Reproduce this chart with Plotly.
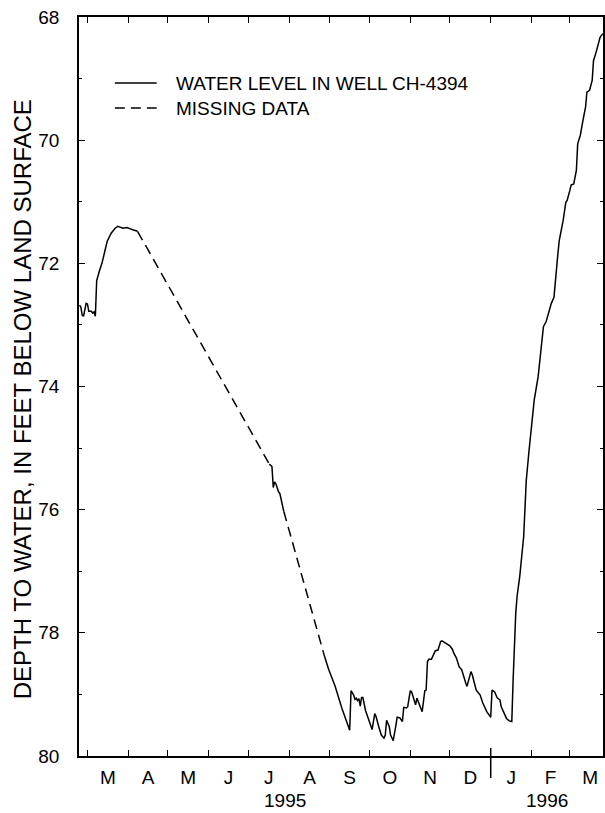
import plotly.graph_objects as go
import pandas as pd

# ---------------- data ----------------
# Measured water level, well CH-4394 (depth below land surface, ft)
seg1_dates = ["1995-02-23", "1995-02-24", "1995-02-25", "1995-02-26", "1995-02-28",
              "1995-03-01", "1995-03-02", "1995-03-04", "1995-03-05", "1995-03-06",
              "1995-03-07", "1995-03-08", "1995-03-10", "1995-03-12", "1995-03-14",
              "1995-03-16", "1995-03-19", "1995-03-22", "1995-03-24", "1995-03-26",
              "1995-03-28", "1995-03-31", "1995-04-03", "1995-04-05", "1995-04-08"]
seg1_depth = [72.68, 72.71, 72.84, 72.86, 72.65,
              72.66, 72.78, 72.78, 72.81, 72.79,
              72.86, 72.28, 72.13, 72.00, 71.82,
              71.64, 71.51, 71.43, 71.40, 71.42,
              71.43, 71.42, 71.45, 71.46, 71.48]

seg2_dates = ["1995-07-17", "1995-07-18", "1995-07-19", "1995-07-20", "1995-07-21",
              "1995-07-22", "1995-07-23", "1995-07-24", "1995-07-25", "1995-07-27",
              "1995-07-28"]
seg2_depth = [75.26, 75.28, 75.30, 75.64, 75.55,
              75.58, 75.67, 75.71, 75.74, 75.95,
              76.03]

seg3_dates = ["1995-08-28", "1995-08-31", "1995-09-05", "1995-09-10", "1995-09-16",
              "1995-09-17", "1995-09-19", "1995-09-20", "1995-09-21", "1995-09-22",
              "1995-09-23", "1995-09-24", "1995-09-25", "1995-09-26", "1995-09-28",
              "1995-09-30", "1995-10-01", "1995-10-03", "1995-10-05", "1995-10-06",
              "1995-10-08", "1995-10-10", "1995-10-12", "1995-10-13", "1995-10-14",
              "1995-10-16", "1995-10-17", "1995-10-19", "1995-10-21", "1995-10-22",
              "1995-10-24", "1995-10-26", "1995-10-27", "1995-10-29", "1995-10-30",
              "1995-11-01", "1995-11-02", "1995-11-04", "1995-11-05", "1995-11-06",
              "1995-11-08", "1995-11-09", "1995-11-10", "1995-11-12", "1995-11-13",
              "1995-11-14", "1995-11-15", "1995-11-17", "1995-11-19", "1995-11-20",
              "1995-11-22", "1995-11-23", "1995-11-24", "1995-11-25", "1995-11-27",
              "1995-11-29", "1995-12-01", "1995-12-03", "1995-12-04", "1995-12-06",
              "1995-12-08", "1995-12-10", "1995-12-11", "1995-12-13", "1995-12-14",
              "1995-12-16", "1995-12-17", "1995-12-18", "1995-12-20", "1995-12-21",
              "1995-12-24", "1995-12-26", "1995-12-29", "1996-01-01", "1996-01-02",
              "1996-01-04", "1996-01-06", "1996-01-08", "1996-01-09", "1996-01-11",
              "1996-01-13", "1996-01-15", "1996-01-17", "1996-01-18", "1996-01-19",
              "1996-01-20", "1996-01-21", "1996-01-23", "1996-01-26", "1996-01-27",
              "1996-01-28", "1996-01-30", "1996-02-01", "1996-02-03", "1996-02-06",
              "1996-02-08", "1996-02-10", "1996-02-12", "1996-02-14", "1996-02-16",
              "1996-02-18", "1996-02-19", "1996-02-21", "1996-02-22", "1996-02-24",
              "1996-02-25", "1996-02-27", "1996-02-28", "1996-03-01", "1996-03-02",
              "1996-03-04", "1996-03-06", "1996-03-07", "1996-03-08", "1996-03-09",
              "1996-03-11", "1996-03-13", "1996-03-14", "1996-03-16", "1996-03-18",
              "1996-03-19", "1996-03-21", "1996-03-22", "1996-03-24", "1996-03-26"]
seg3_depth = [78.39, 78.59, 78.87, 79.22, 79.58,
              78.94, 79.01, 79.08, 79.06, 79.10,
              79.07, 79.19, 79.05, 79.05, 79.26,
              79.39, 79.47, 79.57, 79.31, 79.36,
              79.52, 79.66, 79.71, 79.66, 79.42,
              79.52, 79.66, 79.75, 79.51, 79.37,
              79.38, 79.44, 79.21, 79.22, 79.20,
              78.94, 78.96, 79.13, 79.17, 79.06,
              79.16, 79.21, 79.28, 78.94, 78.93,
              78.47, 78.43, 78.43, 78.33, 78.29,
              78.28, 78.21, 78.14, 78.13, 78.16,
              78.19, 78.21, 78.27, 78.33, 78.41,
              78.55, 78.60, 78.68, 78.81, 78.87,
              78.71, 78.63, 78.68, 78.82, 78.93,
              79.01, 79.14, 79.28, 79.37, 78.93,
              78.96, 79.06, 79.09, 79.20, 79.31,
              79.39, 79.43, 79.44, 78.77, 78.01,
              77.68, 77.41, 77.09, 76.44, 75.95,
              75.52, 75.06, 74.60, 74.22, 73.84,
              73.46, 73.03, 72.95, 72.79, 72.65,
              72.55, 72.28, 71.84, 71.63, 71.44,
              71.30, 71.01, 70.98, 70.82, 70.73,
              70.71, 70.49, 70.06, 69.98, 69.92,
              69.68, 69.46, 69.22, 69.19, 69.03,
              68.71, 68.57, 68.49, 68.33, 68.27]

month_labels = ["M", "A", "M", "J", "J", "A", "S", "O", "N", "D", "J", "F", "M"]
year_labels = ["1995", "1996"]
y_tick_vals = [68, 70, 72, 74, 76, 78, 80]
legend_labels = ["WATER LEVEL IN WELL CH-4394", "MISSING DATA"]
y_title = "DEPTH TO WATER, IN FEET BELOW LAND SURFACE"

# ---------------- build series ----------------
solid_x = seg1_dates + [None] + seg2_dates + [None] + seg3_dates
solid_y = seg1_depth + [None] + seg2_depth + [None] + seg3_depth
# missing-data dashes join the ends of the measured segments
dash_x = [seg1_dates[-1], seg2_dates[0], None, seg2_dates[-1], seg3_dates[0]]
dash_y = [seg1_depth[-1], seg2_depth[0], None, seg2_depth[-1], seg3_depth[0]]

# ---------------- layout geometry ----------------
W, H = 605, 813
L, R, T, B = 79, 0, 17, 57
PW, PH = W - L - R, H - T - B
FONT = "Liberation Sans, Arial, Helvetica, sans-serif"
FS = 19
x_range = ["1995-02-22 14:00", "1996-03-26 05:00"]


def px_x(px):
    return (px - L) / PW


def px_y(py):
    return (H - B - py) / PH


month_starts = pd.date_range("1995-03-01", "1996-04-01", freq="MS")
month_mids = [month_starts[i] + (month_starts[i + 1] - month_starts[i]) / 2
              for i in range(len(month_labels))]

fig = go.Figure()
fig.add_trace(go.Scatter(x=solid_x, y=solid_y, mode="lines", name=legend_labels[0],
                         line=dict(color="black", width=1.5), connectgaps=False,
                         showlegend=False))
fig.add_trace(go.Scatter(x=dash_x, y=dash_y, mode="lines", name=legend_labels[1],
                         line=dict(color="black", width=1.5, dash="10px,6px"),
                         connectgaps=False, showlegend=False))
# invisible trace to activate the label axis
fig.add_trace(go.Scatter(x=[month_mids[0]], y=[None], xaxis="x2", showlegend=False,
                         hoverinfo="skip"))

fig.update_layout(
    width=W, height=H,
    margin=dict(l=L, r=R, t=T, b=B, pad=0),
    paper_bgcolor="white", plot_bgcolor="white",
    font=dict(family=FONT, size=FS, color="black"),
    showlegend=False,
    xaxis=dict(range=x_range, type="date", tickmode="linear", tick0="1995-03-01",
               dtick="M1", ticks="inside", ticklen=6, tickwidth=1.3, tickcolor="black",
               showticklabels=False, showline=True, linecolor="black", linewidth=1.6,
               mirror="ticks", showgrid=False, zeroline=False),
    xaxis2=dict(matches="x", overlaying="x", anchor="y", side="bottom", type="date",
                tickmode="array", tickvals=month_mids, ticktext=month_labels,
                ticks="", showline=False, showgrid=False, zeroline=False,
                ticklabelstandoff=8, tickfont=dict(size=FS)),
    yaxis=dict(range=[80, 68], tickmode="array", tickvals=y_tick_vals,
               ticks="inside", ticklen=6, tickwidth=1.3, tickcolor="black",
               minor=dict(dtick=1, tick0=68, ticks="inside", ticklen=3, tickwidth=1,
                          tickcolor="black", showgrid=False),
               showline=True, linecolor="black", linewidth=1.6, mirror="ticks",
               showgrid=False, zeroline=False, ticklabelstandoff=14,
               tickfont=dict(size=FS)),
)

# year-break tick at 1 January 1996
fig.add_shape(type="line", xref="x", yref="paper", x0="1996-01-01", x1="1996-01-01",
              y0=px_y(748), y1=px_y(778), line=dict(color="black", width=1.5))

# year labels centred on each year's visible span
x0 = pd.Timestamp(x_range[0]); x1 = pd.Timestamp(x_range[1])
jan96 = pd.Timestamp("1996-01-01")
year_centres = [x0 + (jan96 - x0) / 2, jan96 + (x1 - jan96) / 2]
for lab, xc in zip(year_labels, year_centres):
    fig.add_annotation(x=xc, xref="x", y=px_y(800), yref="paper", text=lab,
                       showarrow=False, xanchor="center", yanchor="middle",
                       font=dict(size=FS))

# y-axis title
fig.add_annotation(x=px_x(22), xref="paper", y=px_y(399), yref="paper", text=y_title,
                   textangle=-90, showarrow=False, xanchor="center", yanchor="middle",
                   font=dict(size=24))

# legend (drawn as key lines + labels)
for i, (lab, dash) in enumerate(zip(legend_labels, ["solid", "10px,6px"])):
    yy = px_y(83 + 25 * i)
    fig.add_shape(type="line", xref="paper", yref="paper", x0=px_x(115), x1=px_x(157),
                  y0=yy, y1=yy, line=dict(color="black", width=1.5, dash=dash))
    fig.add_annotation(x=px_x(174), xref="paper", y=yy, yref="paper", text=lab,
                       showarrow=False, xanchor="left", yanchor="middle",
                       font=dict(size=FS))

fig.write_html("out.html")
